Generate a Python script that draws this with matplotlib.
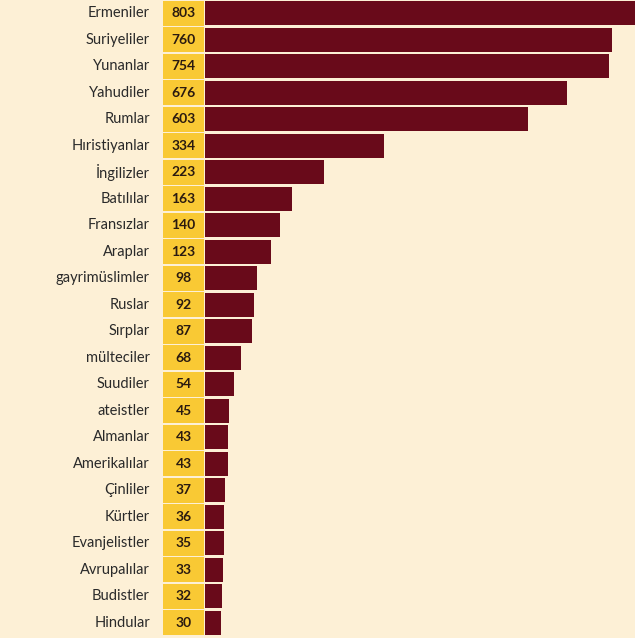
import matplotlib
matplotlib.use('Agg')
import matplotlib.pyplot as plt

grupos = ["Ermeniler", "Suriyeliler", "Yunanlar", "Yahudiler", "Rumlar", "Hıristiyanlar",
          "İngilizler", "Batılılar", "Fransızlar", "Araplar", "gayrimüslimler", "Ruslar",
          "Sırplar", "mülteciler", "Suudiler", "ateistler", "Almanlar", "Amerikalılar",
          "Çinliler", "Kürtler", "Evanjelistler", "Avrupalılar", "Budistler", "Hindular"]
degerler = [803, 760, 754, 676, 603, 334, 223, 163, 140, 123, 98, 92,
            87, 68, 54, 45, 43, 43, 37, 36, 35, 33, 32, 30]

BG = "#fdf0d6"
BORDO = "#690a1a"
SARI = "#f9c934"

W, H = 635, 638
fig = plt.figure(figsize=(W / 100, H / 100), dpi=100, facecolor=BG)
n = len(grupos)
y = list(range(n))
top = 636 / H

# bar axis
ax = fig.add_axes([205 / W, 1 - top, 430 / W, top])
ax.barh(y, degerler, height=0.9, color=BORDO, left=0)
ax.set_xlim(0, 803)
ax.set_ylim(n - 0.5, -0.5)
ax.axis("off")

# yellow value column
axy = fig.add_axes([163 / W, 1 - top, 41 / W, top])
axy.barh(y, [1] * n, height=0.94, color=SARI, left=0)
axy.set_xlim(0, 1)
axy.set_ylim(n - 0.5, -0.5)
axy.axis("off")
for i, (g, v) in enumerate(zip(grupos, degerler)):
    axy.text(0.5, i, str(v), ha="center", va="center", fontsize=10,
             fontweight="bold", family="Lato", color="#2a1a10")
    axy.text(-0.32, i, g, ha="right", va="center", fontsize=10.5,
             family="Lato", color="#2a2a2a", clip_on=False)

fig.savefig("out.png", dpi=100, facecolor=BG)
